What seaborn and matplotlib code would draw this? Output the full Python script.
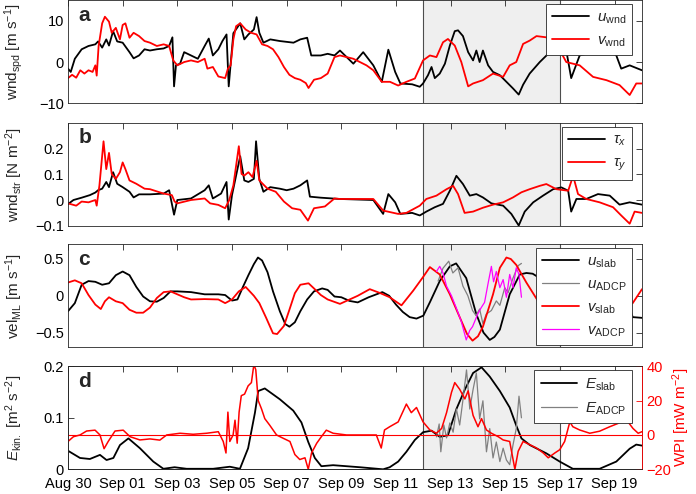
import numpy as np
import pandas as pd
import matplotlib
matplotlib.use('Agg')
import matplotlib.pyplot as plt
from matplotlib.ticker import FuncFormatter
import matplotlib.dates as mdates
import seaborn as sns

sns.set_theme(style='white')
plt.rcParams['font.family'] = ['Liberation Sans', 'DejaVu Sans']
plt.rcParams['mathtext.fontset'] = 'custom'
plt.rcParams['mathtext.rm'] = 'Liberation Sans'
plt.rcParams['mathtext.it'] = 'Liberation Sans:italic'
plt.rcParams['mathtext.bf'] = 'Liberation Sans:bold'

START = pd.Timestamp('2016-08-30')

# ---- panel a : wind components [m s-1], times in days after Aug 30
u_wnd_day = [0, 0.1, 0.25, 0.5, 0.75, 1.0, 1.1, 1.25, 1.4, 1.5,
             1.65, 1.8, 2.0, 2.25, 2.4, 2.6, 2.8, 3.0, 3.25, 3.5,
             3.7, 3.82, 3.88, 3.95, 4.1, 4.25, 4.5, 4.75, 5.0, 5.15,
             5.3, 5.5, 5.65, 5.8, 5.88, 5.95, 6.05, 6.3, 6.45, 6.6,
             6.8, 6.9, 7.0, 7.15, 7.4, 7.75, 8.0, 8.25, 8.5, 8.75,
             8.9, 9.25, 9.5, 9.75, 9.95, 10.44, 10.8, 11.17, 11.48, 11.72,
             11.97, 12.16, 12.59, 12.87, 12.99, 13.17, 13.3, 13.42, 13.6, 13.79,
             13.97, 14.15, 14.27, 14.45, 14.64, 14.82, 14.94, 15.06, 15.18, 15.37,
             15.55, 15.8, 16.04, 16.28, 16.49, 16.65, 16.89, 17.26, 17.63, 18.0,
             18.23, 18.41, 18.72, 19.21, 19.7, 20.06, 20.24, 20.55, 21.0]
u_wnd = [-1.6, -2.4, 0.8, 3.1, 3.9, 4.3, 5.0, 3.5, 5.5, 4.0,
         7.5, 5.0, 4.7, 2.4, 0.9, 1.6, 3.1, 2.8, 3.1, 3.3,
         3.9, 6.0, -5.9, -0.8, -0.4, 2.4, 1.6, 0.8, 3.9, 5.7,
         1.6, 3.1, 5.1, 6.7, -5.9, -0.5, 7.0, 9.4, 5.5, 6.7,
         7.9, 10.9, 7.1, 4.7, 5.5, 5.1, 4.9, 4.7, 5.5, 5.9,
         1.6, 1.6, 2.0, 1.6, 2.8, -0.4, 2.4, -0.8, -4.8, 3.0,
         -2.4, -5.2, -5.4, -6.0, -5.2, -3.2, -1.2, -3.9, -2.8, -0.4,
         4.0, 7.5, 7.7, 6.3, 2.4, 0.4, 2.8, 0.0, 2.8, -0.8,
         -2.4, -3.2, -4.8, -6.4, -7.9, -5.5, -2.8, 0.0, 2.4, 3.0,
         2.8, -3.9, 1.6, 2.4, 3.6, 1.6, -1.6, -0.8, -2.0]
v_wnd_day = [0, 0.15, 0.3, 0.45, 0.6, 0.75, 0.9, 1.0, 1.05, 1.12,
             1.25, 1.35, 1.5, 1.6, 1.75, 1.9, 2.0, 2.1, 2.25, 2.4,
             2.6, 2.8, 3.0, 3.25, 3.5, 3.7, 3.85, 4.0, 4.25, 4.5,
             4.75, 5.0, 5.1, 5.3, 5.5, 5.75, 5.85, 5.95, 6.05, 6.15,
             6.3, 6.5, 6.7, 6.9, 7.1, 7.3, 7.5, 7.7, 7.9, 8.1,
             8.3, 8.5, 8.7, 8.8, 9.0, 9.25, 9.5, 9.75, 9.95, 10.44,
             10.92, 11.17, 11.48, 11.78, 12.08, 12.38, 12.69, 12.99, 13.24, 13.48,
             13.72, 13.9, 14.15, 14.39, 14.64, 14.82, 15.18, 15.55, 15.92, 16.16,
             16.4, 16.65, 16.89, 17.14, 17.5, 17.9, 18.23, 18.72, 19.21, 19.7,
             20.18, 20.55, 20.79, 21.0]
v_wnd = [-3.9, -3.1, -3.8, -2.0, -2.8, -2.0, -2.4, -0.8, -3.3, 3.9,
         9.4, 11.0, 9.8, 7.1, 8.3, 5.5, 9.0, 9.4, 5.9, 7.1,
         6.3, 5.1, 4.7, 3.9, 4.3, 3.9, 0.4, -0.8, 0.0, 0.4,
         0.0, 0.8, -1.6, -1.2, -3.5, -3.9, -1.6, -0.8, 5.5, 8.7,
         9.4, 7.9, 7.1, 6.7, 4.3, 3.9, 3.1, 1.2, -1.2, -3.1,
         -3.9, -4.3, -5.1, -6.3, -4.3, -3.9, -2.8, 1.2, 1.6, 0.8,
         -0.8, -2.0, -4.8, -4.8, -5.7, -4.8, -4.0, 0.4, 1.6, 1.2,
         4.8, 5.6, 4.0, 0.0, -5.9, -5.2, -4.4, -2.8, -3.6, -0.8,
         0.0, 4.4, 5.2, 6.3, 6.0, 4.0, 0.0, -0.8, -3.6, -4.4,
         -5.6, -8.0, -5.2, -5.2]

# ---- panel b : wind stress [N m-2]
tau_x_day = [0, 0.2, 0.5, 0.8, 1.0, 1.1, 1.25, 1.4, 1.5, 1.65,
             1.8, 2.0, 2.25, 2.4, 2.6, 3.0, 3.5, 3.7, 3.88, 4.0,
             4.5, 5.0, 5.15, 5.3, 5.6, 5.8, 5.88, 6.0, 6.2, 6.3,
             6.45, 6.6, 6.8, 6.88, 7.0, 7.15, 7.4, 7.75, 8.0, 8.25,
             8.5, 8.75, 8.85, 9.25, 9.95, 11.17, 11.53, 11.72, 11.97, 12.16,
             12.59, 12.87, 13.11, 13.42, 13.72, 13.97, 14.21, 14.45, 14.7, 14.94,
             15.18, 15.49, 15.92, 16.22, 16.49, 16.71, 17.02, 17.38, 17.75, 18.05,
             18.3, 18.41, 18.6, 18.96, 19.39, 19.82, 20.18, 20.55, 21.0]
tau_x = [-0.016, 0.0, 0.009, 0.019, 0.029, 0.038, 0.044, 0.07, 0.05, 0.108,
         0.063, 0.05, 0.032, 0.01, 0.022, 0.022, 0.025, 0.038, -0.057, 0.0,
         0.006, 0.038, 0.057, 0.006, 0.025, 0.07, -0.076, 0.019, 0.12, 0.17,
         0.076, 0.07, 0.082, 0.228, 0.082, 0.032, 0.05, 0.044, 0.038, 0.044,
         0.057, 0.076, 0.013, 0.009, 0.004, 0.0, -0.054, 0.023, -0.009, -0.054,
         -0.05, -0.06, -0.045, -0.028, -0.015, 0.036, 0.094, 0.062, 0.017, 0.023,
         0.01, -0.013, -0.022, -0.054, -0.099, -0.045, -0.009, 0.017, 0.042, 0.049,
         0.036, -0.045, 0.004, 0.004, 0.023, 0.017, -0.018, -0.009, -0.018]
tau_y_day = [0, 0.3, 0.5, 0.75, 1.0, 1.05, 1.15, 1.3, 1.4, 1.5,
             1.6, 1.75, 1.9, 2.0, 2.1, 2.25, 2.5, 2.8, 3.0, 3.5,
             3.8, 3.9, 4.0, 4.5, 5.0, 5.2, 5.5, 5.75, 5.9, 6.05,
             6.25, 6.35, 6.45, 6.6, 6.75, 6.9, 7.0, 7.3, 7.6, 7.9,
             8.2, 8.5, 8.78, 9.0, 9.4, 9.75, 9.95, 11.17, 11.53, 12.08,
             12.38, 12.87, 13.11, 13.48, 13.85, 14.09, 14.27, 14.51, 14.82, 15.18,
             15.55, 15.92, 16.28, 16.59, 16.89, 17.26, 17.5, 17.87, 18.3, 18.48,
             18.66, 18.96, 19.45, 19.94, 20.24, 20.55, 20.73, 21.0]
tau_y = [-0.013, -0.022, -0.006, -0.009, 0.0, -0.022, 0.057, 0.228, 0.12, 0.183,
         0.101, 0.082, 0.108, 0.146, 0.12, 0.076, 0.063, 0.044, 0.042, 0.025,
         0.019, -0.006, -0.013, 0.0, 0.006, -0.013, -0.019, -0.032, 0.0, 0.057,
         0.209, 0.101, 0.095, 0.108, 0.089, 0.152, 0.076, 0.044, 0.032, -0.006,
         -0.032, -0.038, -0.08, -0.032, -0.025, 0.006, 0.004, 0.004, -0.041, -0.054,
         -0.05, -0.022, 0.004, 0.017, 0.042, 0.055, 0.023, -0.05, -0.045, -0.03,
         -0.018, -0.009, 0.01, 0.03, 0.042, 0.055, 0.062, 0.042, 0.036, 0.094,
         0.023, 0.004, -0.009, -0.028, -0.06, -0.092, -0.045, -0.05]

# ---- panel c : mixed-layer velocity [m s-1]
u_slab_day = [0, 0.25, 0.5, 0.75, 1.0, 1.25, 1.5, 1.75, 2.0, 2.25,
              2.5, 2.75, 3.0, 3.25, 3.5, 3.75, 4.0, 4.5, 5.0, 5.5,
              5.75, 6.0, 6.2, 6.4, 6.6, 6.8, 6.95, 7.1, 7.3, 7.5,
              7.75, 7.95, 8.1, 8.3, 8.5, 8.75, 9.0, 9.3, 9.5, 9.75,
              10.0, 10.3, 10.6, 11.0, 11.5, 11.75, 12.0, 12.25, 12.5, 12.75,
              13.0, 13.25, 13.6, 13.97, 14.2, 14.57, 14.93, 15.2, 15.43, 15.6,
              15.8, 16.16, 16.53, 16.77, 17.0, 17.26, 17.6, 18.0, 18.5, 19.0,
              19.5, 20.0, 20.4, 20.66, 21.0]
u_slab = [-0.21, -0.1, 0.15, 0.2, 0.19, 0.15, 0.17, 0.28, 0.33, 0.28,
          0.12, -0.01, -0.075, -0.08, -0.03, 0.06, 0.06, 0.05, 0.02, 0.02,
          0.01, -0.065, -0.05, 0.12, 0.28, 0.43, 0.52, 0.48, 0.32, 0.06,
          -0.21, -0.385, -0.42, -0.36, -0.21, -0.05, 0.06, 0.1, 0.08, -0.01,
          -0.02, -0.07, -0.09, -0.02, 0.05, 0.0, -0.12, -0.22, -0.29, -0.31,
          -0.27, -0.08, 0.2, 0.4, 0.44, 0.24, -0.24, -0.5, -0.6, -0.56,
          -0.46, 0.02, 0.29, 0.31, 0.3, 0.24, 0.05, -0.2, -0.35, -0.1,
          0.2, 0.25, 0.0, -0.29, -0.3]
v_slab_day = [0, 0.25, 0.5, 0.75, 1.0, 1.2, 1.35, 1.5, 1.75, 2.0,
              2.25, 2.5, 2.75, 3.0, 3.25, 3.5, 3.75, 4.0, 4.25, 4.5,
              5.0, 5.5, 5.75, 6.0, 6.25, 6.5, 6.65, 6.8, 7.0, 7.25,
              7.5, 7.65, 7.9, 8.1, 8.3, 8.5, 8.8, 9.0, 9.25, 9.5,
              9.95, 10.6, 11.04, 11.4, 11.77, 12.2, 12.63, 13.0, 13.24, 13.6,
              13.97, 14.33, 14.6, 14.8, 15.0, 15.18, 15.55, 15.8, 16.04, 16.2,
              16.4, 16.77, 17.26, 17.6, 18.0, 18.5, 19.0, 19.5, 20.0, 20.4,
              20.66, 21.0]
v_slab = [0.18, 0.21, 0.17, 0.01, -0.12, -0.18, -0.075, -0.02, -0.075, -0.1,
          -0.19, -0.23, -0.23, -0.16, -0.03, 0.05, 0.06, 0.02, -0.02, -0.05,
          -0.045, -0.05, -0.1, -0.05, 0.06, 0.12, 0.06, 0.0, -0.1, -0.3,
          -0.51, -0.52, -0.41, -0.19, 0.035, 0.15, 0.17, 0.1, 0.01, -0.05,
          -0.11, 0.0, 0.09, 0.04, -0.02, -0.13, 0.07, 0.26, 0.39, 0.29,
          0.02, -0.29, -0.52, -0.61, -0.55, -0.42, 0.02, 0.38, 0.52, 0.5,
          0.42, 0.18, -0.11, -0.05, 0.1, 0.25, 0.1, -0.1, -0.2, -0.15,
          -0.1, 0.09]
u_adcp_day = [13.54, 13.72, 13.93, 14.08, 14.27, 14.45, 14.63, 14.8, 14.93, 15.06,
              15.18, 15.3, 15.49, 15.67, 15.8, 15.98, 16.1, 16.28, 16.47, 16.59]
u_adcp = [0.2, 0.375, 0.47, 0.31, 0.38, 0.13, 0.0, -0.2, -0.27, -0.18,
          -0.38, -0.25, -0.2, -0.07, -0.13, 0.11, 0.04, 0.24, 0.41, 0.44]
v_adcp_day = [13.48, 13.6, 13.72, 13.85, 14.03, 14.2, 14.39, 14.57, 14.7, 14.8,
              15.0, 15.12, 15.24, 15.36, 15.49, 15.57, 15.67, 15.8, 15.92, 16.04,
              16.16, 16.28, 16.4, 16.5, 16.59]
v_adcp = [0.33, 0.4, 0.31, 0.13, 0.0, -0.16, -0.35, -0.6, -0.47, -0.42,
          -0.24, -0.16, -0.09, 0.15, 0.4, 0.19, 0.33, 0.11, 0.22, -0.02,
          0.29, 0.11, 0.38, 0.29, -0.02]

# ---- panel d : kinetic energy [m2 s-2] and wind power input [mW m-2]
e_slab_day = [0, 0.44, 0.8, 1.17, 1.41, 1.66, 1.9, 2.21, 2.63, 3.12,
              3.49, 3.9, 4.34, 5.31, 5.92, 6.29, 6.59, 6.84, 6.96, 7.2,
              7.75, 8.24, 8.54, 8.79, 9.03, 9.27, 9.7, 10.19, 10.68, 11.53,
              11.77, 12.08, 12.38, 12.69, 12.99, 13.3, 13.6, 13.9, 14.21, 14.52,
              14.82, 15.13, 15.43, 15.8, 16.16, 16.4, 16.59, 16.9, 17.5, 17.99,
              18.47, 19.45, 20.06, 20.55, 20.79, 21.0]
e_slab = [0.036, 0.022, 0.02, 0.028, 0.018, 0.022, 0.047, 0.06, 0.041, 0.015,
          0.001, 0.004, 0.001, 0.001, 0.005, 0.001, 0.041, 0.11, 0.152, 0.157,
          0.136, 0.114, 0.091, 0.053, 0.022, 0.006, 0.008, 0.006, 0.004, 0.0,
          0.004, 0.015, 0.034, 0.057, 0.072, 0.075, 0.063, 0.066, 0.117, 0.155,
          0.187, 0.198, 0.18, 0.152, 0.12, 0.085, 0.06, 0.047, 0.031, 0.015,
          0.001, 0.001, 0.015, 0.04, 0.048, 0.046]
e_adcp_day = [13.48, 13.58, 13.64, 13.75, 13.85, 13.97, 14.09, 14.21, 14.33, 14.45,
              14.58, 14.7, 14.82, 14.94, 15.06, 15.18, 15.31, 15.43, 15.55, 15.67,
              15.8, 15.92, 16.04, 16.16, 16.28, 16.4, 16.5, 16.59]
e_adcp = [0.063, 0.088, 0.034, 0.086, 0.061, 0.09, 0.072, 0.117, 0.086, 0.135,
          0.193, 0.117, 0.155, 0.187, 0.098, 0.133, 0.034, 0.079, 0.022, 0.053,
          0.015, 0.041, 0.018, 0.009, 0.047, 0.079, 0.142, 0.1]
wpi_day = [0.0, 0.2, 0.44, 0.68, 0.99, 1.17, 1.32, 1.47, 1.72, 2.02,
           2.27, 2.63, 3.0, 3.36, 3.61, 4.1, 4.58, 5.07, 5.5, 5.68,
           5.78, 5.85, 5.92, 6.04, 6.11, 6.19, 6.26, 6.34, 6.46, 6.59,
           6.71, 6.8, 6.87, 6.96, 7.08, 7.2, 7.38, 7.63, 7.87, 8.12,
           8.3, 8.48, 8.67, 8.79, 8.91, 9.1, 9.27, 9.45, 9.7, 10.19,
           10.68, 11.28, 11.46, 11.58, 11.77, 12.08, 12.38, 12.56, 12.75, 12.99,
           13.24, 13.48, 13.67, 13.85, 14.03, 14.15, 14.33, 14.52, 14.64, 14.82,
           15.0, 15.13, 15.31, 15.49, 15.74, 15.92, 16.16, 16.35, 16.47, 16.65,
           16.9, 17.14, 17.39, 17.57, 17.81, 17.99, 18.17, 18.36, 18.47, 18.72,
           19.09, 19.45, 19.82, 20.12, 20.3, 20.49, 20.67, 20.86, 21.0]
wpi = [-3.8, -1.0, 0.0, 2.3, 2.8, 0.0, -8.0, -3.8, 2.3, 2.8,
       -1.0, -2.9, -2.3, -3.0, 0.0, 1.0, 0.4, 1.0, 1.9, -3.8,
       -10.5, 13.3, -3.8, 0.0, 8.6, -4.8, 13.3, 22.9, 23.8, 28.6,
       30.5, 41.0, 38.0, 20.0, 15.2, 9.5, 5.7, 0.0, -1.9, -3.8,
       -11.4, -14.3, -13.3, -20.0, -10.5, -4.8, -1.0, 2.8, 1.0, 0.0,
       0.0, 0.0, -7.6, 2.9, 4.8, 7.6, 18.0, 13.0, 16.0, 7.6,
       2.9, 1.0, 3.8, 13.0, 24.8, 30.5, 26.6, 21.0, 25.7, 11.4,
       4.8, 9.5, 2.9, 1.0, -1.0, -2.9, -3.8, -20.0, -9.5, -3.8,
       -5.7, -7.6, -10.5, -13.3, -10.5, -8.6, -3.8, 7.6, 4.8, 2.9,
       1.0, 2.2, 4.8, 6.7, 9.5, 7.6, 3.8, 1.0, 1.9]

tick_days = list(range(0, 21, 2))
shade_days = [13, 18]


def to_time(days):
    return START + pd.to_timedelta(np.asarray(days, dtype=float), unit='D')


def draw(ax, days, vals, color, lw, label=None):
    sns.lineplot(x=to_time(days), y=vals, ax=ax, color=color, lw=lw,
                 label=label, estimator=None, legend=False)


def fmt(v, pos):
    return f'{v:g}'.replace('-', '\u2212')


def style(ax, ylim, yticks, ylabel, letter, right=True):
    t = to_time(shade_days)
    ax.axvspan(t[0], t[1], color='#efefef', lw=0, zorder=0)
    for x in t:
        ax.axvline(x, color='#4d4d4d', lw=0.8, zorder=0.6)
    ax.set_xlim(to_time([0])[0], to_time([21])[0])
    ax.set_ylim(*ylim)
    ax.set_yticks(yticks)
    ax.yaxis.set_major_formatter(FuncFormatter(fmt))
    ax.set_xticks(to_time(tick_days))
    ax.xaxis.set_major_formatter(mdates.DateFormatter('%b %d'))
    ax.tick_params(direction='in', length=4, width=0.6, top=True, right=right,
                   labelsize=10.5, pad=3, colors='#262626', labelcolor='black')
    ax.tick_params(axis='x', pad=5.5)
    for s in ax.spines.values():
        s.set_color('#262626')
        s.set_linewidth(0.6)
    ax.set_ylabel(ylabel, fontsize=11)
    ax.yaxis.set_label_coords(-0.075, 0.5)
    ax.set_xlabel('')
    ax.text(0.018, 0.855, letter, transform=ax.transAxes, fontsize=15,
            fontweight='bold', va='center', ha='left')


def legend(ax, handles=None):
    kw = dict(loc='upper right', bbox_to_anchor=(0.983, 0.96), borderaxespad=0,
              fancybox=False, framealpha=1, edgecolor='#262626', fontsize=11,
              handlelength=2.4, handletextpad=0.5, borderpad=0.4, labelspacing=0.5)
    if handles is not None:
        leg = ax.legend(handles=handles, **kw)
    else:
        leg = ax.legend(**kw)
    leg.get_frame().set_linewidth(0.6)
    return leg


fig = plt.figure(figsize=(6.96, 4.94), dpi=100)
bottoms = [0.791, 0.543, 0.297, 0.05]
axes = [fig.add_axes([0.0977, b, 0.8247, 0.2085]) for b in bottoms]
ax_a, ax_b, ax_c, ax_d = axes

# a
draw(ax_a, u_wnd_day, u_wnd, 'black', 1.3, r'$u_{\mathrm{wnd}}$')
draw(ax_a, v_wnd_day, v_wnd, 'red', 1.3, r'$v_{\mathrm{wnd}}$')
style(ax_a, (-10, 15), [-10, 0, 10], r'wnd$_{\mathrm{spd}}$ [m s$^{-1}$]', 'a')
legend(ax_a)

# b
draw(ax_b, tau_x_day, tau_x, 'black', 1.3, r'$\tau_x$')
draw(ax_b, tau_y_day, tau_y, 'red', 1.3, r'$\tau_y$')
style(ax_b, (-0.1, 0.3), [-0.1, 0, 0.1, 0.2], r'wnd$_{\mathrm{str}}$ [N m$^{-2}$]', 'b')
legend(ax_b)

# c
draw(ax_c, u_slab_day, u_slab, 'black', 1.3, r'$u_{\mathrm{slab}}$')
draw(ax_c, u_adcp_day, u_adcp, '#808080', 0.9, r'$u_{\mathrm{ADCP}}$')
draw(ax_c, v_slab_day, v_slab, 'red', 1.3, r'$v_{\mathrm{slab}}$')
draw(ax_c, v_adcp_day, v_adcp, '#ff00ff', 0.9, r'$v_{\mathrm{ADCP}}$')
style(ax_c, (-0.7, 0.7), [-0.5, 0, 0.5], r'vel$_{\mathrm{ML}}$ [m s$^{-1}$]', 'c')
legend(ax_c)

# d
draw(ax_d, e_slab_day, e_slab, 'black', 1.3, r'$E_{\mathrm{slab}}$')
draw(ax_d, e_adcp_day, e_adcp, '#808080', 0.9, r'$E_{\mathrm{ADCP}}$')
style(ax_d, (0, 0.2), [0, 0.1, 0.2], r'$E_{\mathrm{kin.}}$ [m$^2$ s$^{-2}$]', 'd', right=False)
ax_d.tick_params(labelbottom=True, labelsize=10.5)

ax_w = ax_d.twinx()
ax_w.axhline(0, color='red', lw=0.8)
draw(ax_w, wpi_day, wpi, 'red', 1.1)
ax_w.set_ylim(-20, 40)
ax_w.set_yticks([-20, 0, 20, 40])
ax_w.yaxis.set_major_formatter(FuncFormatter(fmt))
ax_w.tick_params(axis='y', direction='in', length=4, width=0.6, colors='red',
                 labelcolor='red', labelsize=10.5, pad=3)
ax_w.set_ylabel(r'WPI [mW m$^{-2}$]', color='red', fontsize=11)
ax_w.yaxis.set_label_coords(1.05, 0.5)
for name, s in ax_w.spines.items():
    s.set_linewidth(0.6)
    s.set_color('red' if name == 'right' else '#262626')
h, l = ax_d.get_legend_handles_labels()
legend(ax_w, handles=h)

for ax in (ax_a, ax_b, ax_c):
    ax.tick_params(labelbottom=False)

fig.savefig('out.png', dpi=100)
